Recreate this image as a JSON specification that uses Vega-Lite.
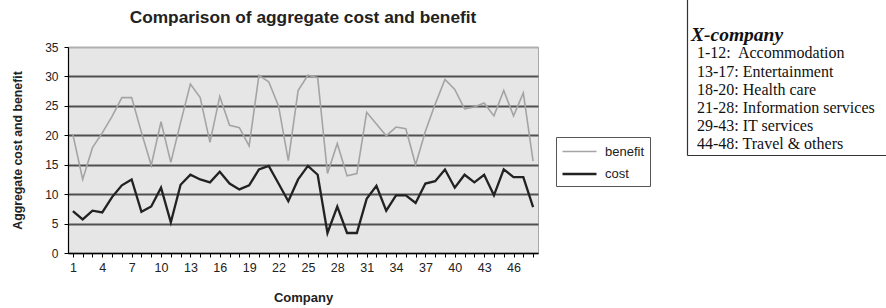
{
  "$schema": "https://vega.github.io/schema/vega-lite/v6.json",
  "background": "white",
  "padding": {"left": 11, "top": 8, "right": 0, "bottom": 0},
  "config": {
    "font": "Liberation Sans",
    "concat": {"spacing": 148}
  },
  "datasets": {
    "costs": [
      {"company": 1, "benefit": 20.1, "cost": 7.1},
      {"company": 2, "benefit": 12.5, "cost": 5.7},
      {"company": 3, "benefit": 17.9, "cost": 7.2},
      {"company": 4, "benefit": 20.4, "cost": 6.9},
      {"company": 5, "benefit": 23.2, "cost": 9.5},
      {"company": 6, "benefit": 26.4, "cost": 11.5},
      {"company": 7, "benefit": 26.4, "cost": 12.5},
      {"company": 8, "benefit": 20.5, "cost": 7.0},
      {"company": 9, "benefit": 14.9, "cost": 7.9},
      {"company": 10, "benefit": 22.3, "cost": 11.1},
      {"company": 11, "benefit": 15.4, "cost": 5.2},
      {"company": 12, "benefit": 22.2, "cost": 11.6},
      {"company": 13, "benefit": 28.7, "cost": 13.3},
      {"company": 14, "benefit": 26.4, "cost": 12.5},
      {"company": 15, "benefit": 18.8, "cost": 12.0},
      {"company": 16, "benefit": 26.6, "cost": 13.8},
      {"company": 17, "benefit": 21.7, "cost": 11.8},
      {"company": 18, "benefit": 21.3, "cost": 10.8},
      {"company": 19, "benefit": 18.2, "cost": 11.5},
      {"company": 20, "benefit": 30.2, "cost": 14.2},
      {"company": 21, "benefit": 29.1, "cost": 14.8},
      {"company": 22, "benefit": 25.0, "cost": 11.8},
      {"company": 23, "benefit": 15.7, "cost": 8.8},
      {"company": 24, "benefit": 27.6, "cost": 12.5},
      {"company": 25, "benefit": 30.2, "cost": 14.8},
      {"company": 26, "benefit": 29.8, "cost": 13.3},
      {"company": 27, "benefit": 13.5, "cost": 3.4},
      {"company": 28, "benefit": 18.6, "cost": 7.9},
      {"company": 29, "benefit": 13.1, "cost": 3.4},
      {"company": 30, "benefit": 13.5, "cost": 3.4},
      {"company": 31, "benefit": 23.9, "cost": 9.2},
      {"company": 32, "benefit": 21.9, "cost": 11.4},
      {"company": 33, "benefit": 19.9, "cost": 7.2},
      {"company": 34, "benefit": 21.4, "cost": 9.8},
      {"company": 35, "benefit": 21.1, "cost": 9.8},
      {"company": 36, "benefit": 15.0, "cost": 8.5},
      {"company": 37, "benefit": 20.7, "cost": 11.8},
      {"company": 38, "benefit": 25.3, "cost": 12.2},
      {"company": 39, "benefit": 29.5, "cost": 14.2},
      {"company": 40, "benefit": 27.8, "cost": 11.1},
      {"company": 41, "benefit": 24.5, "cost": 13.3},
      {"company": 42, "benefit": 24.8, "cost": 12.0},
      {"company": 43, "benefit": 25.5, "cost": 13.3},
      {"company": 44, "benefit": 23.3, "cost": 9.8},
      {"company": 45, "benefit": 27.6, "cost": 14.2},
      {"company": 46, "benefit": 23.3, "cost": 12.9},
      {"company": 47, "benefit": 27.2, "cost": 12.9},
      {"company": 48, "benefit": 15.6, "cost": 7.8}
    ],
    "box": [
      {"kind": "head", "line": "X-company"},
      {"kind": "item", "line": "1-12:\u00a0 Accommodation"},
      {"kind": "item", "line": "13-17: Entertainment"},
      {"kind": "item", "line": "18-20: Health care"},
      {"kind": "item", "line": "21-28: Information services"},
      {"kind": "item", "line": "29-43: IT services"},
      {"kind": "item", "line": "44-48: Travel & others"}
    ]
  },
  "hconcat": [
    {
      "width": 470,
      "height": 206,
      "view": {"fill": "#e6e6e6", "stroke": "#a8a8a8", "strokeWidth": 1},
      "title": {
        "text": "Comparison of aggregate cost and benefit",
        "font": "Liberation Sans",
        "fontSize": 17.3,
        "fontWeight": "bold",
        "color": "#222",
        "anchor": "middle",
        "frame": "group",
        "offset": 15
      },
      "data": {"name": "costs"},
      "transform": [{"fold": ["benefit", "cost"], "as": ["series", "value"]}],
      "mark": {"type": "line", "strokeJoin": "miter"},
      "encoding": {
        "x": {
          "field": "company",
          "type": "quantitative",
          "scale": {"domain": [0.5, 48.5], "nice": false, "zero": false},
          "axis": {
            "values": [1,2,3,4,5,6,7,8,9,10,11,12,13,14,15,16,17,18,19,20,21,22,23,24,25,26,27,28,29,30,31,32,33,34,35,36,37,38,39,40,41,42,43,44,45,46,47,48],
            "labelExpr": "(datum.value - 1) % 3 == 0 ? datum.label : ''",
            "grid": false,
            "tickSize": 4,
            "tickColor": "#000",
            "domainColor": "#000",
            "domainWidth": 1.2,
            "labelFontSize": 12.5,
            "labelColor": "#222",
            "labelPadding": 4,
            "labelFlush": false,
            "labelOverlap": false,
            "title": "Company",
            "titleFontSize": 13,
            "titleFontWeight": "bold",
            "titleColor": "#222",
            "titlePadding": 18
          }
        },
        "y": {
          "field": "value",
          "type": "quantitative",
          "scale": {"domain": [0, 35], "nice": false},
          "axis": {
            "values": [0, 5, 10, 15, 20, 25, 30, 35],
            "grid": true,
            "gridColor": {"condition": {"test": "datum.value == 35", "value": "#b0b0b0"}, "value": "#505050"},
            "gridWidth": 1.8,
            "tickSize": 4,
            "tickColor": "#000",
            "domainColor": "#000",
            "domainWidth": 1.2,
            "labelFontSize": 12,
            "labelColor": "#222",
            "labelPadding": 6,
            "title": "Aggregate cost and benefit",
            "titleFontSize": 12.3,
            "titleFontWeight": "bold",
            "titleColor": "#222",
            "titlePadding": 20
          }
        },
        "color": {
          "field": "series",
          "type": "nominal",
          "scale": {"domain": ["benefit", "cost"], "range": ["#a4a4a4", "#222222"]},
          "legend": {
            "orient": "none",
            "legendX": 488,
            "legendY": 90,
            "title": null,
            "strokeColor": "#555",
            "fillColor": "white",
            "padding": 5,
            "symbolType": "M-1,0H3",
            "symbolSize": 289,
            "symbolStrokeWidth": 1.8,
            "labelFontSize": 13,
            "labelColor": "#222",
            "labelOffset": 24,
            "rowPadding": 5,
            "labelExpr": "datum.label + '\u00a0\u00a0\u00a0\u00a0'"
          }
        },
        "strokeWidth": {
          "field": "series",
          "type": "nominal",
          "scale": {"domain": ["benefit", "cost"], "range": [1.6, 2.3]},
          "legend": null
        }
      }
    },
    {
      "width": 210,
      "height": 108,
      "view": {"stroke": null, "fill": null},
      "data": {"name": "box"},
      "encoding": {
        "x": {
          "datum": 0,
          "type": "quantitative",
          "scale": {"domain": [0, 1]},
          "axis": {"domain": true, "domainColor": "#333", "domainWidth": 1.2, "ticks": false, "labels": false, "grid": false, "title": null}
        },
        "y": {
          "field": "line",
          "type": "ordinal",
          "scale": {
            "type": "point",
            "domain": [" ", "X-company", "1-12:\u00a0 Accommodation", "13-17: Entertainment", "18-20: Health care", "21-28: Information services", "29-43: IT services", "44-48: Travel & others"],
            "range": [-48, 108],
            "padding": 0.79,
            "align": 0.625
          },
          "axis": {"domain": true, "domainColor": "#333", "domainWidth": 1.2, "ticks": false, "labels": false, "grid": false, "title": null}
        },
        "text": {"field": "line"}
      },
      "layer": [
        {
          "transform": [{"filter": "datum.kind == 'head'"}],
          "mark": {"type": "text", "font": "Liberation Serif", "fontSize": 19.5, "fontWeight": "bold", "fontStyle": "italic", "align": "left", "dx": 4, "color": "#111"}
        },
        {
          "transform": [{"filter": "datum.kind == 'item'"}],
          "mark": {"type": "text", "font": "Liberation Serif", "fontSize": 16, "align": "left", "dx": 10, "color": "#111"}
        }
      ]
    }
  ]
}
